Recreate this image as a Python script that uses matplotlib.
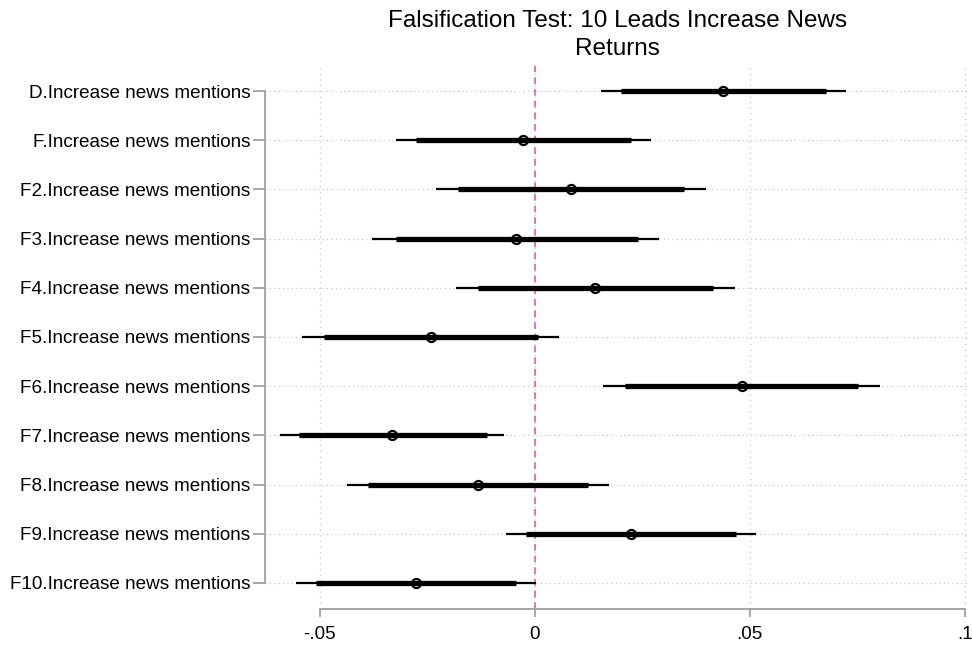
import matplotlib
matplotlib.use("Agg")
import matplotlib.pyplot as plt

plt.rcParams['font.family'] = ['Liberation Sans', 'DejaVu Sans']

# Coefficient plot data: point estimates with 90% (thick) and 95% (thin) intervals
labels = ["D.Increase news mentions", "F.Increase news mentions",
          "F2.Increase news mentions", "F3.Increase news mentions",
          "F4.Increase news mentions", "F5.Increase news mentions",
          "F6.Increase news mentions", "F7.Increase news mentions",
          "F8.Increase news mentions", "F9.Increase news mentions",
          "F10.Increase news mentions"]
coef = [0.0438, -0.0027, 0.0085, -0.0043, 0.0141, -0.0241,
        0.0481, -0.0331, -0.0132, 0.0223, -0.0276]
ci95_lo = [0.0154, -0.0323, -0.0230, -0.0378, -0.0183, -0.0540,
           0.0158, -0.0592, -0.0436, -0.0067, -0.0555]
ci95_hi = [0.0723, 0.0271, 0.0399, 0.0290, 0.0466, 0.0056,
           0.0803, -0.0071, 0.0172, 0.0514, 0.0003]
ci90_lo = [0.0200, -0.0276, -0.0179, -0.0323, -0.0131, -0.0490,
           0.0210, -0.0549, -0.0387, -0.0020, -0.0509]
ci90_hi = [0.0677, 0.0224, 0.0348, 0.0239, 0.0414, 0.0007,
           0.0752, -0.0111, 0.0124, 0.0467, -0.0043]
xticks = [-0.05, 0, 0.05, 0.1]
xticklabels = ["-.05", "0", ".05", ".1"]

W, H = 972, 646
fig = plt.figure(figsize=(W / 100, H / 100), dpi=100)
left, right, top, bottom = 265, 970, 65, 609
ax = fig.add_axes([left / W, 1 - bottom / H, (right - left) / W, (bottom - top) / H])

ypos = list(range(len(labels)))
grid_col = "#c8c8c8"
spine_col = "#a0a0a0"

# dotted grid
for y in ypos:
    ax.axhline(y, color=grid_col, lw=0.9, ls=(0, (1, 2.5)), zorder=0)
for x in xticks:
    ax.axvline(x, color=grid_col, lw=0.9, ls=(0, (1, 3.5)), zorder=0)

ax.axvline(0, color="#e0609e", lw=1.2, ls=(0, (4, 3)), zorder=1)

ax.hlines(ypos, ci95_lo, ci95_hi, color="black", lw=1.6, zorder=2)
ax.hlines(ypos, ci90_lo, ci90_hi, color="black", lw=3.8, zorder=3)
ax.plot(coef, ypos, ls="none", marker="o", ms=6.5, mfc="none",
        mec="black", mew=1.6, zorder=4)

ax.set_xlim(-0.0627, 0.1012)
ax.set_ylim(len(labels) - 1 + 0.53, -0.53)

ax.set_yticks(ypos)
ax.set_yticklabels(labels, fontsize=13.6)
ax.set_xticks(xticks)
ax.set_xticklabels(xticklabels, fontsize=13.6)

for s in ["top", "right"]:
    ax.spines[s].set_visible(False)
ax.spines["left"].set_bounds(0, len(labels) - 1)
ax.spines["bottom"].set_bounds(xticks[0], xticks[-1])
for s in ["left", "bottom"]:
    ax.spines[s].set_color(spine_col)
    ax.spines[s].set_linewidth(1.3)
ax.tick_params(axis="both", colors=spine_col, labelcolor="black",
               width=1.3, direction="out")
ax.tick_params(axis="y", length=8.5, pad=2)
ax.tick_params(axis="x", length=6, pad=6)

ax.set_title("Falsification Test: 10 Leads Increase News\nReturns",
             fontsize=17.5, pad=7, linespacing=1.38)

fig.savefig("out.png", dpi=100)
